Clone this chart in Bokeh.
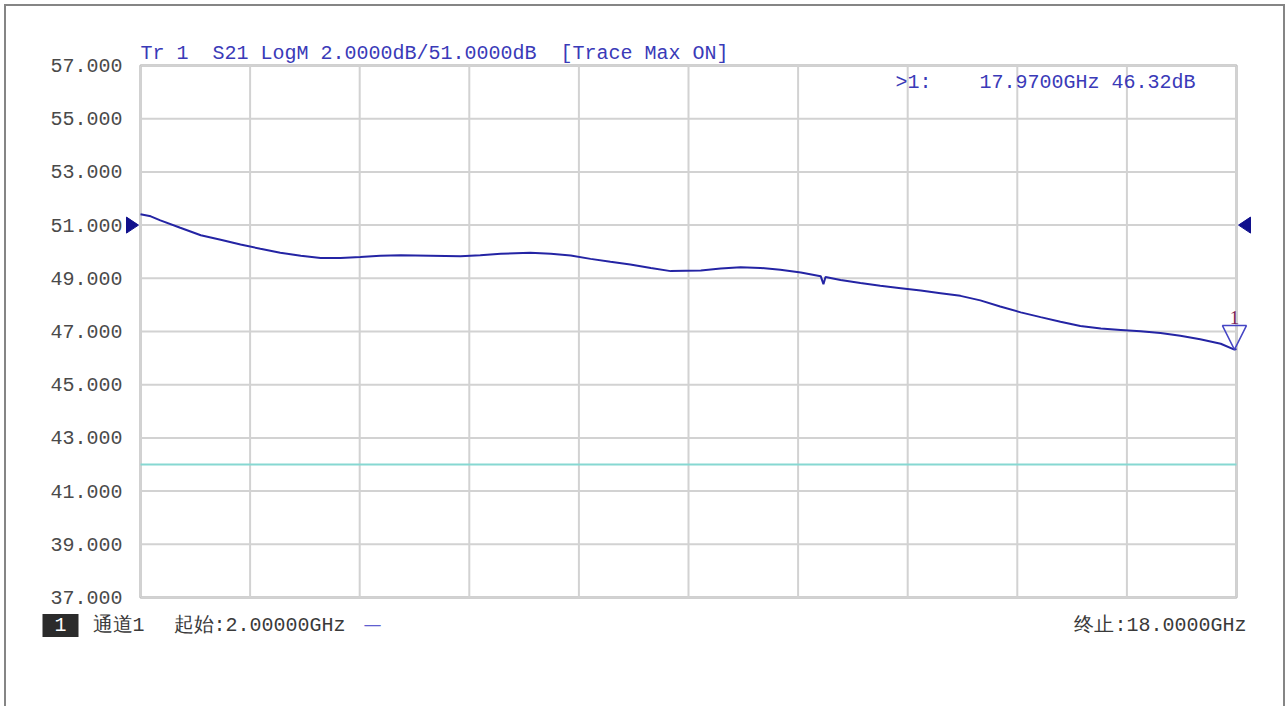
from bokeh.plotting import figure
from bokeh.models import Label, PolyAnnotation, BoxAnnotation, FixedTicker, NumeralTickFormatter, Range1d
from bokeh.embed import file_html
from bokeh.resources import INLINE

# ---- data ----
freq_ghz = [2.00, 2.15, 2.29, 2.58, 2.88, 3.17, 3.46, 3.75, 4.04, 4.34, 4.63, 4.92,
            5.21, 5.50, 5.80, 6.23, 6.67, 6.96, 7.26, 7.69, 7.99, 8.28, 8.57, 8.86,
            9.15, 9.45, 9.74, 10.18, 10.47, 10.76, 11.05, 11.34, 11.64, 11.93, 11.97,
            12.00, 12.22, 12.51, 12.80, 13.10, 13.39, 13.68, 13.97, 14.26, 14.55, 14.85,
            15.14, 15.43, 15.72, 16.02, 16.31, 16.60, 16.89, 17.18, 17.47, 17.77, 17.97, 18.00]
s21_db = [51.41, 51.33, 51.18, 50.90, 50.62, 50.45, 50.27, 50.11, 49.96, 49.85, 49.76, 49.76,
          49.80, 49.85, 49.87, 49.85, 49.83, 49.87, 49.92, 49.96, 49.92, 49.86, 49.73, 49.62,
          49.52, 49.39, 49.27, 49.29, 49.37, 49.42, 49.39, 49.32, 49.22, 49.08, 48.78,
          49.05, 48.94, 48.82, 48.72, 48.63, 48.54, 48.44, 48.34, 48.17, 47.94, 47.72,
          47.54, 47.37, 47.21, 47.11, 47.06, 47.01, 46.94, 46.84, 46.71, 46.54, 46.32, 46.34]

y_ticks = [37, 39, 41, 43, 45, 47, 49, 51, 53, 55, 57]
x_grid = [2.0, 3.6, 5.2, 6.8, 8.4, 10.0, 11.6, 13.2, 14.8, 16.4, 18.0]
start_ghz, stop_ghz = 2.0, 18.0
y_min, y_max = 37.0, 57.0
ref_level = 51.0
limit_db = 42.0
marker_freq = 17.97
marker_db = 46.32

NB = "\u00a0"
header_text = f"Tr 1{NB}{NB}S21 LogM 2.0000dB/51.0000dB{NB}{NB}[Trace Max ON]"
marker_text = f">1:{NB*4}17.9700GHz 46.32dB"
channel_text = "通道1"
start_text = "起始:2.00000GHz"
stop_text = "终止:18.0000GHz"

# ---- layout: the whole canvas is the frame; the graticule sits at fixed pixels ----
W, H = 1286, 706
GX0, GX1, GY0, GY1 = 140, 1236, 65, 597          # graticule box in page pixels
dxp = (stop_ghz - start_ghz) / (GX1 - GX0)        # GHz per pixel
dyp = (y_max - y_min) / (GY1 - GY0)               # dB per pixel


def X(px):
    return start_ghz + (px - GX0) * dxp


def Y(py):
    return y_max - (py - GY0) * dyp


MONO = "Liberation Mono"
BLUE_TXT = "#3a3ab8"
GRID = "#d2d2d2"
TXT = "#3a3a3a"

p = figure(width=W, height=H, output_backend="svg", toolbar_location=None,
           x_range=Range1d(X(0), X(W)), y_range=Range1d(Y(H), Y(0)),
           min_border=0)
p.title.visible = False
p.background_fill_color = None
p.border_fill_color = None
p.outline_line_color = None
p.grid.visible = False
p.styles = {"box-shadow": "inset 4px 4px 0 0 white, inset -1px 0 0 0 white, "
                          "inset 6px 6px 0 0 #858585, inset -3px 0 0 0 #858585"}

p.xaxis.visible = False
yax = p.yaxis[0]
yax.fixed_location = start_ghz
yax.bounds = (y_min, y_max)
yax.ticker = FixedTicker(ticks=y_ticks)
yax.formatter = NumeralTickFormatter(format="0.000")
yax.axis_line_color = None
yax.major_tick_line_color = None
yax.minor_tick_line_color = None
yax.major_tick_out = 0
yax.major_tick_in = 0
yax.major_label_standoff = 18
yax.major_label_text_font = MONO
yax.major_label_text_font_size = "20px"
yax.major_label_text_color = "#4a4a4a"

# graticule
n_x, n_y = len(x_grid), len(y_ticks)
p.segment(x0=x_grid, x1=x_grid, y0=[y_min] * n_x, y1=[y_max] * n_x,
          line_color=GRID, line_width=2)
p.segment(x0=[start_ghz] * n_y, x1=[stop_ghz] * n_y, y0=y_ticks, y1=y_ticks,
          line_color=GRID, line_width=2)
p.add_layout(BoxAnnotation(left=start_ghz, right=stop_ghz, bottom=y_min, top=y_max,
                           fill_alpha=0, line_color="#a0a0a0", line_alpha=1, line_width=2,
                           level="underlay"))

# limit line
p.segment(x0=[start_ghz], x1=[stop_ghz], y0=[limit_db], y1=[limit_db],
          line_color="#86d8d2", line_width=2)

# trace
p.line(freq_ghz, s21_db, line_color="#2424a4", line_width=2)

# reference level markers
p.add_layout(PolyAnnotation(xs=[X(126), X(138), X(126)],
                            ys=[ref_level + 8 * dyp, ref_level, ref_level - 8 * dyp],
                            fill_color="#10108c", fill_alpha=1, line_color="#10108c",
                            line_alpha=1))
p.add_layout(PolyAnnotation(xs=[X(1250), X(1238), X(1250)],
                            ys=[ref_level + 8 * dyp, ref_level, ref_level - 8 * dyp],
                            fill_color="#10108c", fill_alpha=1, line_color="#10108c",
                            line_alpha=1))

# marker 1
p.add_layout(PolyAnnotation(xs=[marker_freq - 12 * dxp, marker_freq + 12 * dxp, marker_freq],
                            ys=[marker_db + 24 * dyp, marker_db + 24 * dyp, marker_db],
                            fill_alpha=0, line_color="#4444c4", line_alpha=1, line_width=1.5))
p.add_layout(Label(x=marker_freq, y=marker_db + 26 * dyp, text="1", text_align="center",
                   text_baseline="bottom", text_font="Liberation Serif", text_font_size="19px",
                   text_color="#7a1f5a"))

# texts
p.add_layout(Label(x=X(140), y=Y(53), text=header_text, text_baseline="middle",
                   text_font=MONO, text_font_size="20px", text_color=BLUE_TXT))
p.add_layout(Label(x=X(895), y=Y(82), text=marker_text,
                   text_baseline="middle", text_font=MONO, text_font_size="20px",
                   text_color=BLUE_TXT))

ybot = Y(625)
p.add_layout(Label(x=X(42), y=ybot, text=f"{NB}1{NB}", text_baseline="middle",
                   text_font=MONO, text_font_size="20px", text_color="white",
                   background_fill_color="#2b2b2b", background_fill_alpha=1))
p.add_layout(Label(x=X(92), y=ybot, text=channel_text, text_baseline="middle",
                   text_font=MONO, text_font_size="20px", text_color=TXT))
p.add_layout(Label(x=X(173), y=ybot, text=start_text, text_baseline="middle",
                   text_font=MONO, text_font_size="20px", text_color=TXT))
p.add_layout(Label(x=X(363), y=Y(623), text="—", text_baseline="middle",
                   text_font="DejaVu Sans", text_font_size="18px", text_color="#6060d0"))
p.add_layout(Label(x=X(1246), y=ybot, text=stop_text, text_align="right",
                   text_baseline="middle", text_font=MONO, text_font_size="20px",
                   text_color=TXT))

open("out.html", "w").write(file_html(p, INLINE))
